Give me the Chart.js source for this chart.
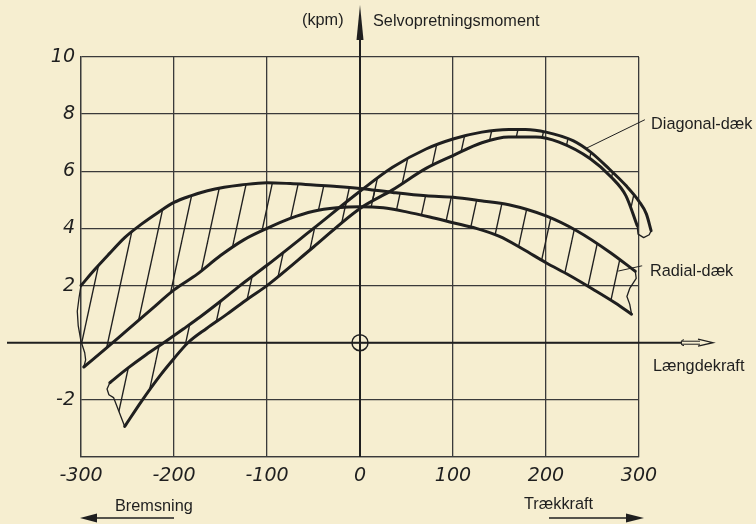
<!DOCTYPE html>
<html><head><meta charset="utf-8">
<script src="https://cdn.jsdelivr.net/npm/chart.js@4.4.1/dist/chart.umd.min.js"></script>
<style>html,body{margin:0;padding:0;background:#f6eed0;}</style>
</head><body>
<canvas id="c" width="756" height="524"></canvas>
<script>
// ---- data ----
const xTicks = [-300, -200, -100, 0, 100, 200, 300];
const yTickLabels = [10, 8, 6, 4, 2, -2];

const radialUpperX = [-300,-285,-270,-253,-235,-217,-200,-182,-164,-146,-128,-100,-75,-50,-25,0,35,71,100,130,160,200,233,269,296];
const radialUpperY = [2.0,2.57,3.1,3.68,4.15,4.56,4.91,5.14,5.32,5.44,5.52,5.6,5.57,5.52,5.47,5.4,5.26,5.14,5.09,4.97,4.83,4.44,3.92,3.16,2.5];
const radialLowerX = [-297,-275,-250,-225,-200,-175,-150,-125,-100,-75,-50,-25,0,25,50,75,100,125,150,175,200,225,250,275,292];
const radialLowerY = [-0.85,-0.25,0.45,1.15,1.85,2.4,3.05,3.6,4.0,4.35,4.6,4.72,4.76,4.72,4.58,4.4,4.2,4.0,3.72,3.28,2.8,2.36,1.88,1.38,1.0];
const radialLeftEndX = [-300,-302,-304,-303,-300,-296,-295,-297];
const radialLeftEndY = [2.0,1.6,1.1,0.6,0.05,-0.35,-0.6,-0.85];
const radialRightEndX = [296,297,290,287,290,292];
const radialRightEndY = [2.5,2.25,1.9,1.62,1.35,1.0];

const diagUpperX = [-269,-250,-230,-211,-190,-172,-150,-129,-100,-50,0,35,71,100,131,160,178,200,229,248,268,286,300,308,313];
const diagUpperY = [-1.4,-0.9,-0.42,0.0,0.48,0.9,1.45,2.0,2.71,4.0,5.3,6.14,6.78,7.13,7.37,7.46,7.46,7.37,7.07,6.67,6.08,5.5,4.95,4.5,3.92];
const diagLowerX = [-253,-235,-215,-200,-185,-165,-143,-120,-100,-50,0,35,71,100,131,160,189,214,248,270,286,298];
const diagLowerY = [-2.93,-2.05,-1.15,-0.55,0.0,0.5,1.0,1.55,2.0,3.35,4.7,5.35,6.1,6.55,7.0,7.2,7.2,7.02,6.43,5.8,5.14,4.1];
const diagLeftEndX = [-269,-272,-270,-265,-253];
const diagLeftEndY = [-1.4,-1.62,-1.82,-1.92,-2.93];
const diagRightEndX = [298,299,305,311,313];
const diagRightEndY = [4.1,3.8,3.68,3.78,3.92];

const diagLeaderX = [306, 243];
const diagLeaderY = [7.8, 6.8];
const radialLeaderX = [303, 278];
const radialLeaderY = [2.69, 2.51];

// ---- styling ----
const PAPER = '#f6eed0';
const INK = '#1f1f1f';
const GRID = '#3a3a3a';

const pts = (xs, ys) => xs.map((v, i) => ({x: v, y: ys[i]}));
const rev = a => a.slice().reverse();

const radialBand = [...pts(radialUpperX, radialUpperY), ...pts(radialRightEndX, radialRightEndY),
  ...rev(pts(radialLowerX, radialLowerY)), ...rev(pts(radialLeftEndX, radialLeftEndY))];
const diagBand = [...pts(diagUpperX, diagUpperY), ...rev(pts(diagRightEndX, diagRightEndY)),
  ...rev(pts(diagLowerX, diagLowerY)), ...rev(pts(diagLeftEndX, diagLeftEndY))];

const canvas = document.getElementById('c');
const mainCtx = canvas.getContext('2d');
function makeHatch() {
  const w = 26, h = 120;
  const c = document.createElement('canvas'); c.width = w; c.height = h;
  const g = c.getContext('2d');
  g.strokeStyle = INK; g.lineWidth = 1.35;
  for (let k = -1; k <= 1; k++) {
    g.beginPath(); g.moveTo(k * w, h); g.lineTo(k * w + w, 0); g.stroke();
  }
  return mainCtx.createPattern(c, 'repeat');
}
const hatch = makeHatch();

const band = (data) => ({data, fill: 'shape', backgroundColor: hatch, borderWidth: 0, borderColor: 'rgba(0,0,0,0)', pointRadius: 0, tension: 0, clip: false});
const thick = (xs, ys) => ({data: pts(xs, ys), fill: false, borderColor: INK, borderWidth: 3, pointRadius: 0, cubicInterpolationMode: 'monotone', clip: false});
const thin = (xs, ys, w) => ({data: pts(xs, ys), fill: false, borderColor: INK, borderWidth: w || 1.3, pointRadius: 0, tension: 0, clip: false});

const deco = {
  id: 'deco',
  beforeDraw(chart) {
    const {ctx, width, height} = chart;
    ctx.save(); ctx.fillStyle = PAPER; ctx.fillRect(0, 0, width, height); ctx.restore();
  },
  beforeDatasetsDraw(chart) {
    const {ctx, scales: {x, y}} = chart;
    const x0 = x.getPixelForValue(0), y0 = y.getPixelForValue(0);
    ctx.save();
    ctx.strokeStyle = INK; ctx.fillStyle = INK;
    // horizontal axis
    ctx.lineWidth = 2;
    ctx.beginPath(); ctx.moveTo(7, y0); ctx.lineTo(682, y0); ctx.stroke();
    ctx.lineWidth = 1;
    ctx.beginPath(); ctx.moveTo(682, y0 - 1.5); ctx.lineTo(700, y0 - 1.5); ctx.moveTo(682, y0 + 1.5); ctx.lineTo(700, y0 + 1.5); ctx.stroke();
    ctx.beginPath(); ctx.arc(684, y0, 3, Math.PI * 0.5, Math.PI * 1.5); ctx.stroke();
    ctx.lineWidth = 1.3;
    ctx.beginPath(); ctx.moveTo(698, y0 - 3.5); ctx.lineTo(713, y0); ctx.lineTo(698, y0 + 3.5); ctx.stroke();
    // vertical axis
    ctx.lineWidth = 2;
    ctx.beginPath(); ctx.moveTo(x0, 20); ctx.lineTo(x0, y.bottom); ctx.stroke();
    ctx.beginPath(); ctx.moveTo(x0, 5); ctx.lineTo(x0 + 3.5, 40); ctx.lineTo(x0 - 3.5, 40); ctx.closePath(); ctx.fill();
    // origin circle
    ctx.lineWidth = 1.5;
    ctx.beginPath(); ctx.arc(x0, y0, 8, 0, Math.PI * 2); ctx.stroke();
    ctx.restore();
  },
  afterDraw(chart) {
    const {ctx} = chart;
    ctx.save();
    ctx.fillStyle = INK; ctx.strokeStyle = INK;
    ctx.font = "16.3px 'Liberation Sans', Arial, sans-serif";
    ctx.textBaseline = 'middle'; ctx.textAlign = 'left';
    ctx.fillText('(kpm)', 302, 21);
    ctx.fillText('Selvopretningsmoment', 373, 22);
    ctx.fillText('Diagonal-dæk', 651, 125);
    ctx.fillText('Radial-dæk', 650, 272);
    ctx.fillText('Længdekraft', 653, 367);
    ctx.fillText('Bremsning', 115, 507);
    ctx.fillText('Trækkraft', 524, 505);
    // direction arrows
    ctx.lineWidth = 1.6;
    ctx.beginPath(); ctx.moveTo(92, 518); ctx.lineTo(174, 518); ctx.stroke();
    ctx.beginPath(); ctx.moveTo(80, 518); ctx.lineTo(97, 513.5); ctx.lineTo(97, 522.5); ctx.closePath(); ctx.fill();
    ctx.beginPath(); ctx.moveTo(549, 518); ctx.lineTo(630, 518); ctx.stroke();
    ctx.beginPath(); ctx.moveTo(644, 518); ctx.lineTo(626, 513.5); ctx.lineTo(626, 522.5); ctx.closePath(); ctx.fill();
    ctx.restore();
  }
};

new Chart(canvas, {
  type: 'line',
  data: {
    datasets: [
      band(radialBand),
      band(diagBand),
      thick(radialUpperX, radialUpperY),
      thick(radialLowerX, radialLowerY),
      thick(diagUpperX, diagUpperY),
      thick(diagLowerX, diagLowerY),
      thin(radialLeftEndX, radialLeftEndY),
      thin(radialRightEndX, radialRightEndY),
      thin(diagLeftEndX, diagLeftEndY),
      thin(diagRightEndX, diagRightEndY),
      thin(diagLeaderX, diagLeaderY, 1),
      thin(radialLeaderX, radialLeaderY, 1)
    ]
  },
  options: {
    responsive: false,
    animation: false,
    devicePixelRatio: 1,
    layout: {padding: {top: 57, right: 117, bottom: 0, left: 0}},
    plugins: {legend: {display: false}, tooltip: {enabled: false}, filler: {propagate: false}},
    elements: {line: {borderCapStyle: 'round', borderJoinStyle: 'round'}},
    scales: {
      x: {
        type: 'linear',
        afterDataLimits: s => { s.min = xTicks[0]; s.max = xTicks[xTicks.length - 1]; },
        afterBuildTicks: s => { s.ticks = xTicks.map(v => ({value: v})); },
        afterFit: s => { s.height = 67; },
        grid: {color: GRID, lineWidth: 1.3, drawTicks: false},
        border: {display: true, color: GRID, width: 1.3},
        ticks: {color: INK, padding: 8, maxRotation: 0, font: {family: "'DejaVu Sans'", size: 19, style: 'italic'}}
      },
      y: {
        type: 'linear', min: -4, max: 10,
        ticks: {stepSize: 2, color: INK, padding: 6,
          callback: v => yTickLabels.includes(v) ? String(v) : '',
          font: {family: "'DejaVu Sans'", size: 19, style: 'italic'}},
        afterFit: s => { s.width = 81; },
        grid: {color: GRID, lineWidth: 1.3, drawTicks: false},
        border: {display: true, color: GRID, width: 1.3}
      }
    }
  },
  plugins: [deco]
});
</script>
</body></html>
